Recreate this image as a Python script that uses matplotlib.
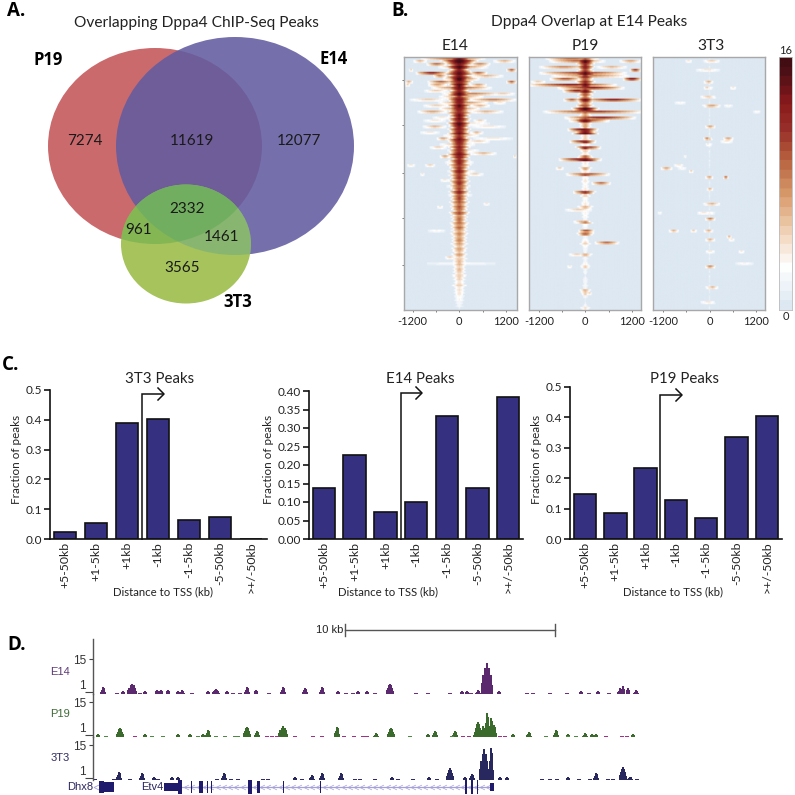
import numpy as np
import matplotlib
matplotlib.use("Agg")
import matplotlib.pyplot as plt
from matplotlib.colors import LinearSegmentedColormap
from matplotlib.patches import Ellipse
from matplotlib.path import Path

# ---------- DATA ----------
VENN_LABELS = {"7274": (85, 141), "11619": (192, 141), "12077": (299, 141), "2332": (187, 209),
               "961": (139, 230), "1461": (222, 237), "3565": (182, 268)}

TSS_BINS = ["+5-50kb", "+1-5kb", "+1kb", "-1kb", "-1-5kb", "-5-50kb", ">+/-50kb"]
PEAKS_3T3 = [0.022, 0.054, 0.388, 0.403, 0.065, 0.073, 0.0]
PEAKS_E14 = [0.137, 0.226, 0.073, 0.099, 0.332, 0.139, 0.384]
PEAKS_P19 = [0.147, 0.086, 0.234, 0.127, 0.069, 0.337, 0.404]

E14_CENTER = [15,16,14,15,13,15,14,16,13,15,
              14,13,15,12,14,13,15,13,12,14,
              14,13,15,14,13,14,12,14,13,12,
              13,12,14,13,12,13,11,12,13,11,
              12,11,12,10,11,12,10,11,10,9,
              10,9,10,8,9,9,8,9,7,8,
              7,8,7,6,7,6,7,5,6,6,
              5,6,5,5,5,4,5,4,4,4,
              3,3,2,2,1]
E14_WIDTH = [420,480,400,360,300,420,360,330,350,300,
             320,300,340,300,350,290,340,300,360,290,
             280,300,320,290,280,300,270,290,320,280,
             300,280,320,290,260,280,310,270,260,280,
             250,270,260,280,240,260,250,240,260,250,
             240,230,260,240,220,230,250,220,240,230,
             220,210,230,200,220,210,200,230,200,190,
             200,180,190,200,180,170,190,170,160,170,
             160,150,150,140,130]
P19_CENTER = [10,15,12,12,11,15,12,10,12,14,
              10,14,10,9,14,9,10,15,9,7,
              10,14,7,7,13,14,5,5,12,4,
              12,5,4,9,14,4,3,7,4,10,
              3,4,3,3,4,11,5,3,3,4,
              6,3,3,3,2,8,3,2,3,9,
              2,3,5,3,2,2,6,2,2,3,
              5,2,2,1,2,2,2,2,6,5,
              2,1,1,2,4]
P19_WIDTH = [300,280,260,240,220,340,260,240,260,300,
             240,260,220,200,280,200,240,340,220,180,
             260,360,180,180,320,340,160,160,300,150,
             280,150,140,220,340,140,130,200,140,300,
             120,130,120,120,130,260,150,120,120,140,
             220,120,120,120,100,200,120,100,120,220,
             100,120,160,120,100,100,180,100,100,120,
             160,100,100,80,100,100,100,100,160,140,
             100,80,80,100,160]
T3_CENTER = [1,3,1,1,3,1,1,1,4,1,
             3,1,1,4,1,1,5,1,1,1,
             1,1,1,5,1,1,1,5,1,3,
             1,1,1,1,1,1,1,1,1,1,
             5,1,1,1,4,1,1,1,1,4,
             1,1,3,1,5,1,1,1,4,1,
             1,4,1,1,1,3,1,1,1,1,
             6,1,1,1,1,1,1,4,1,1,
             1,1,3,1,1]
T3_WIDTH = [90,200,90,80,200,90,80,80,120,80,
            110,80,80,190,80,80,220,80,80,80,
            80,80,80,130,80,80,80,90,80,90,
            80,80,80,80,80,80,80,80,80,80,
            100,80,80,80,100,80,80,80,80,220,
            80,80,170,80,130,80,80,80,130,80,
            80,130,80,80,80,130,80,80,80,80,
            130,80,80,80,80,80,80,150,80,80,
            80,80,190,80,80]

E14_STREAKS = [(0,-930,620,11),(1,-1190,-840,6),(1,880,1450,6),(2,-840,-330,9),(2,280,790,8),
               (4,-1300,-1190,5),(4,1220,1480,9),(5,-1100,-330,12),(5,280,710,9),(6,-670,-330,8),
               (6,280,1130,6),(8,-1420,-1190,6),(8,-800,-150,9),(8,1220,1480,9),(9,-1400,-1270,5),
               (9,-800,-330,7),(9,280,710,7),(10,-670,790,9),(12,-400,1050,8),(12,790,1450,5),
               (14,-1270,-330,5),(14,280,1450,8),(15,-500,710,8),(15,880,1220,4),(16,-930,-240,5),
               (16,280,790,6),(18,-1060,-330,7),(18,280,1130,6),(21,-930,-330,4),(21,360,710,5),
               (23,-930,-330,6),(23,280,1220,4),(25,-1020,-500,4),(25,280,620,6),(27,-580,-240,7),
               (27,360,1390,4),(28,190,790,5),(30,-760,-330,5),(32,280,960,6),(33,-500,-240,7),
               (33,1390,1480,5),(36,-890,-620,5),(36,-1360,-1140,4),(39,-1020,-890,4),(39,190,620,5),
               (41,-500,-240,4),(49,620,790,4),(50,-580,-410,4),(58,-840,-330,3),(67,-370,-110,5),
               (69,-1020,1130,2.5),(3,-500,700,8),(7,-400,500,9),(11,-900,-300,5),(13,-500,600,7),
               (17,-500,500,8),(20,-700,-200,4),(22,-300,800,4),(26,-400,500,6),(29,-500,400,6),
               (31,-300,500,5),(35,-350,350,6),(38,-300,400,5),(43,-350,300,4),(46,-300,350,4)]
P19_STREAKS = [(0,-990,300,11),(1,-900,470,9),(1,900,1440,7),(3,-1160,40,8),(3,300,1080,6),
               (4,1160,1440,11),(5,-1120,990,11),(6,-820,1080,8),(7,990,1440,13),(7,-900,-130,10),
               (8,-1420,-1030,5),(9,-1420,730,12),(10,-650,950,12),(11,-560,130,12),(14,40,1420,12),
               (14,-560,-130,9),(16,-220,130,10),(17,-300,300,15),(18,-990,1440,11),(20,-470,1250,12),
               (21,-400,600,10),(24,-430,300,14),(28,-390,260,12),(30,-170,390,11),(34,-650,390,13),
               (37,-770,-560,5),(39,-470,600,10),(42,170,650,9),(45,-300,220,11),(51,-520,170,5),
               (55,-300,130,6),(58,-170,220,10),(62,260,860,9),(66,-430,0,5),(70,-470,-340,4),
               (78,-130,90,6),(79,40,170,5)]
T3_STREAKS = [(1,-630,-450,4),(1,-150,275,5),(4,-370,275,4),(8,-150,100,6),(10,530,700,4),
              (10,-150,20,5),(13,-240,150,5),(15,-930,-590,3),(16,-150,275,7),(16,360,620,3),
              (18,1130,1350,3),(23,-110,150,7),(27,-150,20,8),(27,360,620,7),(28,280,620,4),
              (29,-110,20,4),(33,-670,-590,3),(36,-930,-670,4),(37,-1270,-970,7),(37,-840,-580,3),
              (38,-540,-410,5),(40,-110,100,7),(40,360,490,9),(44,-70,100,6),(49,-150,275,6),
              (52,-330,20,4),(52,-1360,-1230,3),(54,-110,150,8),(58,-1060,-800,6),(58,-500,-330,5),
              (58,-150,100,6),(60,450,580,6),(61,-110,150,6),(61,490,660,4),(65,-110,150,4),
              (65,750,920,4),(69,660,1180,3),(70,-110,150,8),(77,-70,230,6),(82,-240,150,4)]

# track positions are read along the genome axis; heights in signal units
E14_PEAK_X = [103,123,132,145,157,161,168,178,182,208,216,227,247,256,283,305,322,338,358,367,390,462,467,478,487,499,581,598,620,623,628,636]
E14_PEAK_H = [3.0,1.3,4.3,1.3,1.9,1.9,2.1,1.6,1.6,1.3,2.1,1.6,3.0,2.1,3.0,2.6,3.0,1.3,1.3,1.7,4.3,1.7,1.7,1.7,13.3,1.3,1.3,1.7,2.5,3.9,3.0,1.7]
E14_PEAK_W = [3,2,5,2,2,2,2,2,3,2,4,2,3,2,3,3,3,2,2,2,4,2,2,3,6,2,2,2,3,2,2,3]
E14_DASH_X = [117,140,192,233,240,269,346,353,375,416,428,450,471,527,533,550,567,589,609]
P19_PEAK_X = [98,120,145,178,190,203,208,247,257,283,337,376,391,428,435,455,475,478,483,487,491,494,513,529,556,568,585,592,596,633]
P19_PEAK_H = [1.3,3.9,1.7,1.3,1.3,1.3,3.0,4.3,2.6,4.7,4.3,1.7,3.9,1.7,2.6,2.6,1.3,6.4,4.7,10.3,8.2,5.1,1.7,2.1,3.0,1.3,1.7,1.7,1.3,1.3]
P19_PEAK_W = [2,4,2,2,2,2,3,4,3,5,3,3,4,2,3,3,2,4,3,3,3,3,2,3,3,2,3,2,2,2]
P19_GREEN_DASH = [106,152,163,198,216,225,235,238,410,452,546,576,568]
P19_PINK_DASH = [135,267,272,277,295,313,322,344,354,363,367,463,469,500,505,606,622,627]
T3_PEAK_X = [119,142,154,172,178,224,295,312,322,341,392,429,450,465,472,484,491,500,507,568,596,623,630]
T3_PEAK_H = [3.4,3.0,1.3,1.7,1.7,3.0,1.7,2.1,3.0,3.0,1.3,1.7,5.1,1.3,2.6,13.3,13.7,1.3,1.3,1.7,3.0,5.6,1.3]
T3_PEAK_W = [3,3,2,2,2,3,2,3,3,3,2,2,4,2,3,5,3,2,2,2,3,4,3]
T3_DASH_X = [95,114,130,158,217,231,238,263,268,302,355,360,375,398,413,437,542,550,557,579,590,608,613,637]

GENE_THICK = [(99,114,5.0),(99,104,6.0),(164,182,4.0),(178,182,7.0)]
GENE_EXONS = [(191,192,6),(199,203,6),(206.5,207.5,6),(210.5,211.5,6),(248,252,7),(257,259.5,6),(283,284,6),(320,320.5,6),(465,466.5,7),(471,472.5,7),(477,478,7),(490,493.5,4)]
GENE_INTRON = (182, 490)

# row-to-row texture of the fine heatmap rows
ROW_TEXTURE = [1.0, 0.82, 1.12, 0.9, 1.05, 0.76, 1.18]

# ---------- STYLE / LAYOUT ----------
S = 795.0
plt.rcParams["font.family"] = ["Lato", "DejaVu Sans"]
BOLD = "Open Sans"
ARIAL = "Liberation Sans"
fig = plt.figure(figsize=(7.95, 7.95), dpi=100, facecolor="white")
TXT = "#222222"


def ax_px(x0, y0, x1, y1, **kw):
    return fig.add_axes([x0 / S, 1 - y1 / S, (x1 - x0) / S, (y1 - y0) / S], **kw)


ov = fig.add_axes([0, 0, 1, 1], zorder=10)
ov.set_xlim(0, S)
ov.set_ylim(S, 0)
ov.axis("off")
ov.patch.set_alpha(0)


def T(x, y, s, size=11, weight="normal", color=TXT, ha="center", va="center", **kw):
    ov.text(x, y, s, fontsize=size, fontweight=weight, color=color, ha=ha, va=va, **kw)


for lab, x, y in [("A.", 7, 11), ("B.", 391, 11), ("C.", 2, 365), ("D.", 7, 645)]:
    T(x, y, lab, size=13.5, weight="bold", color="black", ha="left", family=BOLD)

# ---------- A: Venn ----------
T(196, 23, "Overlapping Dppa4 ChIP-Seq Peaks", size=11.2)
ov.add_patch(Ellipse((155, 146), 214, 196, fc="#cb6a6c", ec="none", zorder=1))
ov.add_patch(Ellipse((235, 146), 238, 218, fc=(98 / 255, 92 / 255, 160 / 255, 0.88), ec="none", zorder=2))
green = Ellipse((186, 244), 130, 119, fc="#a6c35c", ec="none", zorder=3)
ov.add_patch(green)
e1 = Ellipse((235, 146), 238, 218, fc=(95 / 255, 165 / 255, 140 / 255, 0.42), ec="none", zorder=4)
ov.add_patch(e1)
e1.set_clip_path(green)
e2 = Ellipse((155, 146), 214, 196, fc=(85 / 255, 165 / 255, 75 / 255, 0.42), ec="none", zorder=5)
ov.add_patch(e2)
e2.set_clip_path(green)
for s, (x, y) in VENN_LABELS.items():
    T(x, y, s, size=11, color="#1a1a1a", zorder=8)
T(48, 60, "P19", size=12, weight="bold", color="black", family=BOLD)
T(334, 59, "E14", size=12, weight="bold", color="black", family=BOLD)
T(238, 302, "3T3", size=12, weight="bold", color="black", family=BOLD)

# ---------- B: heatmaps ----------
cmap = LinearSegmentedColormap.from_list(
    "dp", [(0, "#dde8f2"), (0.16, "#ffffff"), (0.3, "#f1d3b8"), (0.45, "#d99c6c"), (0.6, "#b7603f"),
           (0.72, "#98302a"), (0.83, "#8a1a1c"), (0.95, "#4f1016"), (1, "#420d13")]).resampled(27)
xcols = np.linspace(-1480, 1480, 150)
SUB = 2


def build(center, width, streaks):
    nr = len(center) * SUB
    m = np.zeros((nr, xcols.size))
    for r in range(nr):
        tex = ROW_TEXTURE[r % len(ROW_TEXTURE)]
        p = center[r // SUB] * (0.85 + 0.15 * tex)
        w = width[r // SUB] * tex
        prof = p * np.clip(1 - (np.abs(xcols) / w) ** 1.4, 0, None)
        prof[prof < 0.9] = 0
        m[r] = prof + (0.25 if r % 3 == 0 else 0)
    for r, a, b, v in streaks:
        mid, half = (a + b) / 2, (b - a) / 2
        prof = v * np.clip(1.12 - np.abs(xcols - mid) / half, 0, 1) ** 0.6
        prof[prof < 1.2] = 0
        m[r * SUB] = np.maximum(m[r * SUB], prof)
        m[r * SUB + 1] = np.maximum(m[r * SUB + 1], 0.7 * prof)
    return m


panels = [("E14", 404, 517, -1420, 1480, 455, E14_CENTER, E14_WIDTH, E14_STREAKS),
          ("P19", 529, 641, -1453, 1436, 585, P19_CENTER, P19_WIDTH, P19_STREAKS),
          ("3T3", 653, 765, -1462, 1436, 711, T3_CENTER, T3_WIDTH, T3_STREAKS)]
T(589, 22, "Dppa4 Overlap at E14 Peaks", size=11.2)
for name, x0, x1, lo, hi, tx, cen, wid, st in panels:
    a = ax_px(x0, 57, x1, 310)
    a.imshow(build(cen, wid, st), cmap=cmap, vmin=0, vmax=16, aspect="auto",
             interpolation="bilinear", extent=(-1480, 1480, 85, 0))
    a.set_xlim(lo, hi)
    a.set_ylim(85, 0)
    a.set_xticks([-1200, 0, 1200])
    a.set_xticklabels(["-1200", "0", "1200"])
    a.set_xticks([-600, 600], minor=True)
    a.tick_params(axis="x", which="both", length=1.5, width=0.6, color="#666666", labelsize=8,
                  labelcolor=TXT, pad=3)
    a.set_yticks([7.6, 23, 39, 54, 70] if name == "E14" else [])
    a.set_yticklabels([] if name != "E14" else [""] * 5)
    a.tick_params(axis="y", length=1.2, width=0.6, color="#666666")
    for sp in a.spines.values():
        sp.set_color("#a8a8a8")
        sp.set_linewidth(1.0)
    T(tx, 46, name, size=11.2)

cb = ax_px(779, 57, 792, 310)
cb.imshow(np.linspace(16, 0, 256)[:, None], cmap=cmap, vmin=0, vmax=16, aspect="auto")
cb.set_xticks([])
cb.set_yticks([])
for sp in cb.spines.values():
    sp.set_color("#bbbbbb")
    sp.set_linewidth(0.6)
T(786, 50, "16", size=8)
T(786, 316, "0", size=8)

# ---------- C: bars ----------
BAR = "#35307f"
bars = [("3T3 Peaks", PEAKS_3T3, 50, 267, 390, 539, 0.5, np.arange(0, 0.51, 0.1), "%.1f", 65, 31.0, 17, 163, 160, 142, 164, 394),
        ("E14 Peaks", PEAKS_E14, 309, 523, 391, 539, 0.4, np.arange(0, 0.401, 0.05), "%.2f", 324, 30.7, 268, 388, 420, 401, 422, 393),
        ("P19 Peaks", PEAKS_P19, 570, 782, 387, 539, 0.5, np.arange(0, 0.51, 0.1), "%.1f", 585, 30.3, 537, 673, 685, 660, 682, 395)]
for title, vals, x0, x1, yt, yb, ymax, yticks, fmt, c0, dx, ylx, xlx, tx, ax0, ax1, ay in bars:
    a = ax_px(x0, yt, x1, yb)
    a.patch.set_alpha(0)
    a.bar(np.arange(len(vals)), vals, width=22.5 / dx, color=BAR, edgecolor="#111111", linewidth=1.2)
    a.set_xlim((x0 - c0) / dx, (x1 - c0) / dx)
    a.set_ylim(0, ymax)
    a.set_yticks(yticks)
    a.set_yticklabels([fmt % v for v in yticks])
    a.set_xticks(np.arange(len(vals)))
    a.set_xticklabels(TSS_BINS, rotation=90)
    a.tick_params(axis="x", length=0, labelsize=8.8, labelcolor=TXT, pad=2)
    a.tick_params(axis="y", length=4, width=1.1, labelsize=8.5, labelcolor=TXT, pad=1.5)
    for k in ("top", "right"):
        a.spines[k].set_visible(False)
    for k in ("left", "bottom"):
        a.spines[k].set_linewidth(1.2)
        a.spines[k].set_color("#111111")
    a.set_ylabel("Fraction of peaks", fontsize=8.4, color=TXT, va="center")
    a.yaxis.set_label_coords(ylx, 459, transform=ov.transData)
    a.set_xlabel("Distance to TSS (kb)", fontsize=8.2, color=TXT)
    a.xaxis.set_label_coords(xlx, 592, transform=ov.transData)
    a.xaxis.label.set_va("center")
    T(tx, 379, title, size=10.8)
    ov.plot([ax0, ax0, ax1 - 1], [yb, ay, ay], color="#111111", lw=1.1, solid_joinstyle="miter", zorder=6)
    ov.plot([ax1 - 6, ax1, ax1 - 6], [ay - 6, ay, ay + 6], color="#111111", lw=1.1, zorder=6)

# ---------- D: tracks ----------
tracks = [("E14", "#5f3a78", "#5b2a6e", 639, 694, 672, E14_PEAK_X, E14_PEAK_H, E14_PEAK_W),
          ("P19", "#3d6b34", "#3a6b2c", 694, 737, 714, P19_PEAK_X, P19_PEAK_H, P19_PEAK_W),
          ("3T3", "#2f2a66", "#28285f", 737, 780, 758, T3_PEAK_X, T3_PEAK_H, T3_PEAK_W)]
dashes = {"E14": [(E14_DASH_X, "#6f2f7f")],
          "P19": [(P19_GREEN_DASH, "#4f8a43"), (P19_PINK_DASH, "#a03088")],
          "3T3": [(T3_DASH_X, "#2f2a70")]}
for name, lc, col, yt, yb, ly, px, ph, pw in tracks:
    a = ax_px(93, yt, 640, yb)
    a.patch.set_alpha(0)
    a.set_xlim(93, 640)
    a.set_ylim(0, (yb - yt) / 2.33)
    for c, h, w in zip(px, ph, pw):
        xs = [c - w, c - w * 0.65, c - w * 0.35, c, c + w * 0.35, c + w * 0.65, c + w]
        ys = [0.35 * h, 0.6 * h, 0.85 * h, h, 0.85 * h, 0.6 * h, 0.3 * h]
        a.fill_between(xs, 0, ys, step="mid", color=col, lw=0, clip_on=False)
    for xs, dc in dashes[name]:
        for c in xs:
            a.fill_between([c - 2.2, c + 2.2], 0, 0.5, color=dc, lw=0, clip_on=False)
    a.set_xticks([])
    a.set_yticks([1, 15])
    a.tick_params(axis="y", length=3, width=0.8, color="#444444", labelsize=8.5, labelcolor="#333333", pad=2)
    for lab in a.get_yticklabels():
        lab.set_family(ARIAL)
    a.get_yticklabels()[0].set_va("bottom")
    a.yaxis.get_major_ticks()[0].tick1line.set_markersize(6)
    a.yaxis.get_major_ticks()[0].tick1line.set_color("#aaaaaa")
    for k in ("top", "right", "bottom"):
        a.spines[k].set_visible(False)
    a.spines["left"].set_linewidth(1.0)
    a.spines["left"].set_color("#555555")
    T(60, ly, name, size=8, color=lc, family=ARIAL)

# gene models
g = ax_px(93, 781, 640, 793)
g.set_xlim(93, 640)
g.set_ylim(-6, 6)
g.axis("off")
chev = Path([(1, 1), (-1, 0), (1, -1)], [Path.MOVETO, Path.LINETO, Path.LINETO])
cx = np.arange(GENE_INTRON[0] + 4, GENE_INTRON[1], 6.3)
g.plot(GENE_INTRON, [0, 0], color="#a5a0d8", lw=0.9, zorder=1)
g.plot(cx, np.zeros_like(cx), ls="none", marker=chev, ms=3.5, mfc="none", mec="#a5a0d8", mew=0.5, zorder=1)
g.plot([96], [0], ls="none", marker=chev, ms=3.5, mfc="none", mec="#a5a0d8", mew=0.6)
for x0, x1, h in GENE_THICK + GENE_EXONS:
    g.fill_between([x0, x1], -h, h, color="#1f1a6b", lw=0, zorder=2, clip_on=False)
T(80, 787, "Dhx8", size=8, color="#2a2560", family=ARIAL)
T(152, 787, "Etv4", size=8, color="#2a2560", family=ARIAL)

# scale bar
ov.plot([345, 555], [630, 630], color="#555555", lw=1.0)
for x in (345, 555):
    ov.plot([x, x], [624, 636], color="#555555", lw=1.0)
T(343, 630, "10 kb", size=8, ha="right", color="#222222", family=ARIAL)

fig.savefig("out.png", dpi=100, facecolor="white")
